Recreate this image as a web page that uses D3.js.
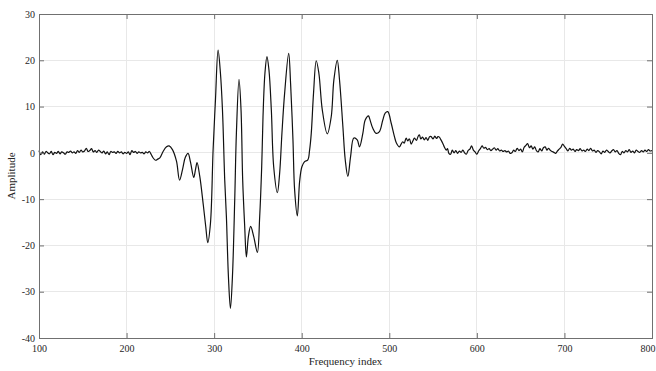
<!DOCTYPE html>
<html>
<head>
<meta charset="utf-8">
<script src="https://cdn.jsdelivr.net/npm/d3@7"></script>
<style>
  html, body { margin: 0; padding: 0; background: #fff; }
  svg { display: block; }
</style>
</head>
<body>
<div id="chart"></div>
<script>
// ---- Data ----
const xTicks = [100, 200, 300, 400, 500, 600, 700, 800];
const yTicks = [-40, -30, -20, -10, 0, 10, 20, 30];
const xLabel = "Frequency index";
const yLabel = "Amplitude";

// noisy baseline before the burst: [index, amplitude]
const preSignal = [
  [100,0.5],[102,-0.4],[104,0.2],[106,-0.3],[108,0.3],[110,0.0],[112,-0.2],[114,0.3],
  [116,-0.4],[118,0.1],[120,-0.1],[122,0.3],[124,-0.2],[126,0.2],[128,0.0],[130,-0.3],
  [132,0.2],[134,0.1],[136,0.4],[138,0.0],[140,0.2],[142,-0.1],[144,0.5],[146,0.1],
  [148,0.6],[150,0.2],[152,0.4],[154,1.0],[156,0.3],[158,0.5],[160,0.9],[162,0.2],
  [164,0.5],[166,0.1],[168,0.6],[170,0.3],[172,0.0],[174,0.4],[176,-0.2],[178,0.2],
  [180,-0.4],[182,0.3],[184,0.1],[186,0.2],[188,-0.1],[190,0.3],[192,0.0],[194,0.2],
  [196,-0.2],[198,0.1],[200,-0.1],[202,0.2],[204,-0.4],[206,0.5],[208,0.1],[210,0.3],
  [212,-0.1],[214,0.2],[216,0.0],[218,0.1],[220,-0.2],[222,0.2],[224,0.0],[226,0.3],
  [228,-0.3]
];

// the oscillating burst
const burst = [
  [230,-1.0],[233,-1.6],[236,-1.3],[238,-1.1],[241.7,0.3],[245.6,1.3],[248.6,1.5],
  [252.4,0.7],[257,-1.8],[260.5,-5.9],[264,-3.5],[267,-1.0],[270.2,-0.1],[273,-2.0],
  [276.7,-5.3],[278.8,-3.5],[280.5,-2.1],[283.6,-5.1],[287.4,-10.9],[290.4,-15.9],
  [292.7,-19.4],[295.8,-15.2],[298.8,0.6],[301.5,11.4],[304.5,22.2],[307.2,17.2],
  [309.5,9.3],[312.1,-5.9],[314,-13.8],[316.3,-26.7],[318.6,-33.6],[320.9,-26.7],
  [323.5,-10.2],[325.4,4.2],[328.4,15.9],[330.7,9.3],[332.6,-5.9],[334.9,-15.9],
  [336.8,-22.5],[339.1,-18.1],[341.7,-15.9],[345.2,-18.1],[349.4,-21.5],[352,-13.8],
  [354.3,-3.0],[355.8,7.8],[358,17.2],[360.3,20.8],[362.6,17.9],[365.3,9.3],[368,-3.0],
  [372.2,-8.6],[374.8,-4.4],[377.4,4.2],[380.5,12.9],[385.1,21.5],[387.3,15.0],[390,2.8],
  [391.9,-8.0],[395,-13.6],[397.6,-6.2],[400.2,-3.0],[403.3,-1.9],[407,-1.5],[409,0.6],
  [410.9,4.2],[413.5,12.9],[416.6,19.9],[419.6,17.2],[423.5,9.3],[429.2,4.1],[433.7,7.8],
  [436.7,15.7],[440.6,20.0],[443.2,15.7],[447,5.7],[449.7,-1.5],[452.7,-5.1],[455.8,-0.8],
  [459.5,3.2],[463.4,2.8],[466,1.3],[469.8,4.2],[472.5,7.1],[476.3,8.0],[477.4,7.5],
  [481.2,5.3],[485,4.2],[488.8,4.6],[492.6,7.1],[495.3,8.6],[498.3,8.9],[502.2,6.4],
  [505.9,3.5],[508,2.2],[511.6,1.3],[513.5,1.9],[515.4,2.4],[517,2.1],[519.3,3.2],
  [521,2.6],[523,3.0],[525,1.9],[527,2.6],[528.7,3.2],[531,2.7],[533,3.6],[534.4,3.9],
  [536,3.0],[538,3.4],[540,2.8],[542,3.3],[544,2.7],[546,3.5],[547.8,3.5],[550,3.0],
  [552,3.6],[554,3.1],[555.5,3.5],[557.2,3.4],[559,2.8],[561,2.1],[563,1.2],[565,0.6],
  [566.5,0.9]
];

// noisy baseline after the burst
const postSignal = [
  [568,-0.1],[570,-0.3],[572,0.6],[574,0.0],[576,0.5],[578,-0.1],[580,0.4],[582,0.1],
  [584,0.6],[586,0.0],[588,-0.3],[590,0.5],[592,0.8],[594,1.5],[596,0.6],[598,0.2],
  [600,-0.3],[602,0.4],[604,0.9],[606,1.5],[608,1.0],[610,1.2],[612,0.7],[614,0.9],
  [616,0.5],[618,0.8],[620,1.1],[622,0.6],[624,0.9],[626,0.4],[628,0.6],[630,0.3],
  [632,0.5],[634,0.2],[636,0.4],[638,-0.1],[640,0.0],[642,0.6],[644,0.3],[646,1.0],
  [648,0.5],[650,0.8],[652,0.2],[654,1.2],[656,1.6],[658,2.0],[660,1.1],[662,1.5],
  [664,0.8],[666,1.3],[668,0.5],[670,0.2],[672,0.9],[674,0.4],[676,1.1],[678,1.3],
  [680,0.6],[682,1.0],[684,0.5],[686,0.3],[688,0.1],[690,-0.1],[692,0.4],[694,0.8],
  [696,1.2],[698,1.9],[700,1.4],[702,0.9],[704,0.4],[706,1.0],[708,0.6],[710,0.8],
  [712,0.3],[714,0.7],[716,0.5],[718,0.9],[720,0.4],[722,0.6],[724,0.3],[726,0.8],
  [728,0.5],[730,1.0],[732,0.4],[734,0.6],[736,0.1],[738,0.5],[740,0.2],[742,-0.2],
  [744,0.4],[746,0.1],[748,0.6],[750,0.3],[752,0.0],[754,0.4],[756,0.7],[758,0.2],
  [760,0.5],[762,-0.1],[764,-0.4],[766,0.3],[768,0.0],[770,0.5],[772,0.2],[774,0.7],
  [776,0.1],[778,0.4],[780,0.0],[782,0.6],[784,0.3],[786,0.1],[788,0.5],[790,0.2],
  [792,0.6],[794,0.3],[796,0.7],[798,0.4],[800,0.5]
];

// ---- Drawing ----
const W = 656, H = 371;
const margin = { left: 39, right: 4, top: 14, bottom: 33 };
const iw = W - margin.left - margin.right;
const ih = H - margin.top - margin.bottom;

const svg = d3.select("#chart").append("svg").attr("width", W).attr("height", H);
const g = svg.append("g").attr("transform", `translate(${margin.left},${margin.top})`);

const x = d3.scaleLinear().domain([100, 800]).range([0, iw]);
const y = d3.scaleLinear().domain([-40, 30]).range([ih, 0]);

const font = "'Liberation Serif', 'Times New Roman', serif";

// grid
g.append("g").selectAll("line").data(xTicks.slice(1, -1)).join("line")
  .attr("x1", d => x(d)).attr("x2", d => x(d)).attr("y1", 0).attr("y2", ih)
  .attr("stroke", "#e8e8e8").attr("stroke-width", 1).attr("shape-rendering", "crispEdges");
g.append("g").selectAll("line").data(yTicks.slice(1, -1)).join("line")
  .attr("y1", d => y(d)).attr("y2", d => y(d)).attr("x1", 0).attr("x2", iw)
  .attr("stroke", "#e8e8e8").attr("stroke-width", 1).attr("shape-rendering", "crispEdges");

// signal
const series = preSignal.concat(burst, postSignal);
const line = d3.line().x(d => x(d[0])).y(d => y(d[1])).curve(d3.curveCatmullRom.alpha(0.5));
g.append("path").datum(series).attr("d", line)
  .attr("fill", "none").attr("stroke", "#111").attr("stroke-width", 1.2)
  .attr("stroke-linejoin", "round");

// axes
const axisColor = "#707070";
function styleAxis(sel, showText) {
  sel.select(".domain").remove();
  sel.selectAll(".tick line").attr("stroke", axisColor);
  sel.selectAll(".tick text").attr("fill", "#262626").style("font-family", font).style("font-size", "10px");
  if (!showText) sel.selectAll(".tick text").remove();
}
const xAxisG = g.append("g").attr("transform", `translate(0,${ih})`)
  .call(d3.axisBottom(x).tickValues(xTicks).tickSize(-5).tickPadding(7).tickFormat(d3.format("d")))
  .call(s => styleAxis(s, true));
// keep the last label inside the window
xAxisG.selectAll(".tick text").filter(d => d === xTicks[xTicks.length - 1])
  .attr("text-anchor", "end").attr("x", 3);
g.append("g")
  .call(d3.axisTop(x).tickValues(xTicks).tickSize(-5))
  .call(s => styleAxis(s, false));
g.append("g")
  .call(d3.axisLeft(y).tickValues(yTicks).tickSize(-5).tickPadding(4).tickFormat(d => d3.format("d")(d).replace("−", "-")))
  .call(s => styleAxis(s, true));
g.append("g").attr("transform", `translate(${iw},0)`)
  .call(d3.axisRight(y).tickValues(yTicks).tickSize(-5))
  .call(s => styleAxis(s, false));

// box
g.append("rect").attr("x", 0).attr("y", 0).attr("width", iw).attr("height", ih)
  .attr("fill", "none").attr("stroke", axisColor).attr("stroke-width", 1)
  .attr("shape-rendering", "crispEdges");

// labels
svg.append("text").attr("x", margin.left + iw / 2).attr("y", 365)
  .attr("text-anchor", "middle").style("font-family", font).style("font-size", "11px")
  .attr("fill", "#262626").text(xLabel);
svg.append("text").attr("transform", `translate(15,${margin.top + ih / 2}) rotate(-90)`)
  .attr("text-anchor", "middle").style("font-family", font).style("font-size", "11px")
  .attr("fill", "#262626").text(yLabel);
</script>
</body>
</html>
